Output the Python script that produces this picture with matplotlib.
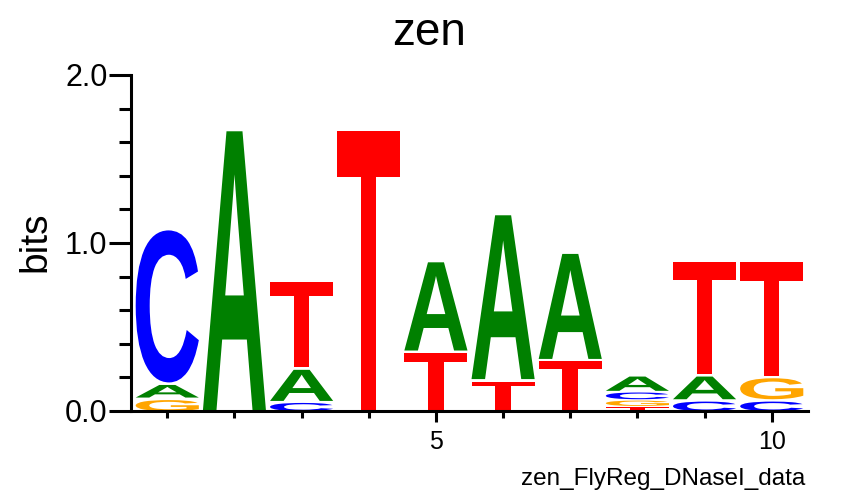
import matplotlib
matplotlib.use("Agg")
import matplotlib.pyplot as plt
from matplotlib.textpath import TextPath
from matplotlib.patches import PathPatch
from matplotlib.font_manager import FontProperties
from matplotlib.transforms import Affine2D
from matplotlib.ticker import MultipleLocator

plt.rcParams['font.family'] = ['Liberation Sans', 'DejaVu Sans']

# logo data (bits per letter, per position)
positions = [1, 2, 3, 4, 5, 6, 7, 8, 9, 10]
A = [0.09, 1.68, 0.20, 0.00, 0.54, 0.99, 0.64, 0.10, 0.15, 0.00]
C = [0.92, 0.00, 0.06, 0.00, 0.00, 0.00, 0.00, 0.05, 0.07, 0.07]
G = [0.08, 0.00, 0.00, 0.00, 0.00, 0.00, 0.00, 0.04, 0.00, 0.14]
T = [0.00, 0.00, 0.52, 1.68, 0.36, 0.19, 0.31, 0.03, 0.68, 0.69]

colors = {'A': '#008000', 'C': '#0000ff', 'G': '#ffa500', 'T': '#ff0000'}
fp = FontProperties(family='Liberation Sans', weight='bold')

fig = plt.figure(figsize=(8.58, 4.96), dpi=100)
ax = fig.add_axes([131/858, 1-411/496, (808-131)/858, (411-75)/496])


def draw_letter(ax, ch, xc, y0, h, width=0.94):
    tp = TextPath((0, 0), ch, size=1, prop=fp)
    ext = tp.get_extents()
    gap = min(0.015, 0.2*h)
    hh = h - gap
    tr = (Affine2D().translate(-ext.x0, -ext.y0)
          .scale(width/ext.width, hh/ext.height)
          .translate(xc - width/2, y0))
    ax.add_patch(PathPatch(tr.transform_path(tp), fc=colors[ch], ec='none', lw=0))


for i, p in enumerate(positions):
    col = [('A', A[i]), ('C', C[i]), ('G', G[i]), ('T', T[i])]
    col = sorted([c for c in col if c[1] > 0], key=lambda c: c[1])
    y = 0
    for ch, h in col:
        draw_letter(ax, ch, p, y, h)
        y += h

ax.set_xlim(0.46, 10.54)
ax.set_ylim(0, 2.0)
for s in ['top', 'right']:
    ax.spines[s].set_visible(False)
for s in ['left', 'bottom']:
    ax.spines[s].set_linewidth(2.2)

ax.xaxis.set_minor_locator(MultipleLocator(1))
ax.yaxis.set_minor_locator(MultipleLocator(0.2))
ax.set_yticks([0, 1, 2])
ax.set_yticklabels(['0.0', '1.0', '2.0'], fontsize=22)
ax.set_xticks([5, 10])
ax.set_xticklabels(['5', '10'], fontsize=18)
ax.tick_params(axis='y', which='major', length=16, width=2.2, pad=1)
ax.tick_params(axis='y', which='minor', length=8.6, width=2.2)
ax.tick_params(axis='x', which='major', length=8, width=2.2, pad=6)
ax.tick_params(axis='x', which='minor', length=5, width=2.2)

fig.text(0.5, 1-45/496, 'zen', ha='center', va='baseline', fontsize=33)
fig.text(35/858, 1-242/496, 'bits', ha='center', va='center', rotation=90, fontsize=28)
fig.text(805/858, 1-485/496, 'zen_FlyReg_DNaseI_data', ha='right', va='baseline', fontsize=17.5)

fig.savefig('out.png', dpi=100)
